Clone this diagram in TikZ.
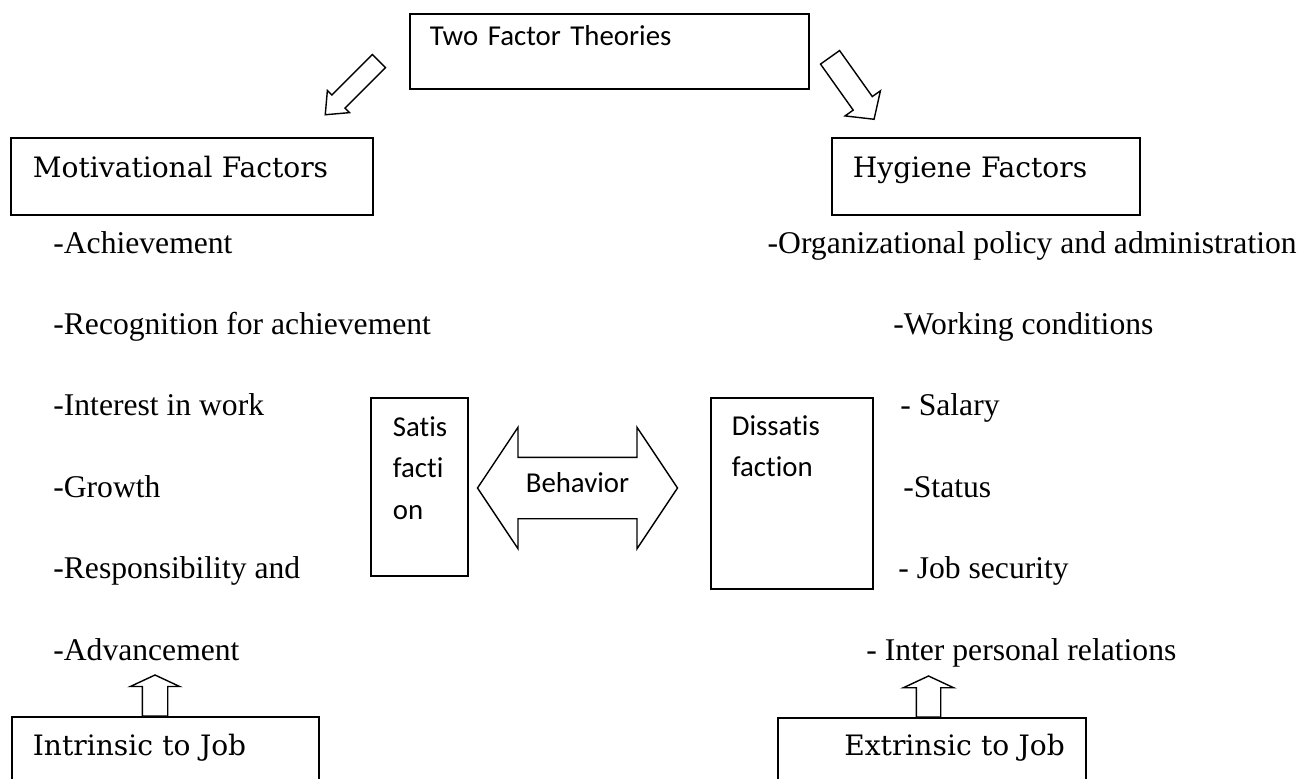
\documentclass[tikz,border=0pt]{standalone}
\usepackage{fontspec}
\setmainfont{Liberation Serif}
\newfontfamily\carlito[Ligatures=NoCommon]{Carlito}
\newfontfamily\dejaserif{DejaVu Serif}
\usetikzlibrary{shapes,shapes.arrows,calc}
\newlength{\pxl}
\setlength{\pxl}{0.02cm}
\tikzset{
  factbox/.style={
      draw,
      line width=1pt,
      anchor=north west,
      inner ysep=0pt,
      align=left
  },
  sansbox/.style={
      factbox,
      font=\carlito\fontsize{16.4}{23.4}\selectfont
  },
  serifbox/.style={
      factbox,
      font=\dejaserif\fontsize{16}{20}\selectfont
  },
  factor/.style={
      anchor=base west,
      inner sep=0pt,
      font=\fontsize{18}{22}\selectfont
  },
  blockarrow/.style={
      draw,
      line width=0.8pt,
      single arrow,
      inner xsep=0pt,
      outer sep=0pt
  }
}

\begin{document}
\begin{tikzpicture}[x=0.02cm,y=-0.02cm]
    \useasboundingbox (0,0) rectangle (1309,778);
    \clip (0,0) rectangle (1309,778);
    \node[sansbox,inner xsep=20\pxl,text width=359\pxl,text height=32\pxl,text depth=43\pxl] (theory) at (409,13) {Two Factor Theories};
    \node[serifbox,inner xsep=22\pxl,text width=318\pxl,text height=40\pxl,text depth=37\pxl] (motiv) at (10,137) {Motivational Factors};
    \node[serifbox,inner xsep=21\pxl,text width=266\pxl,text height=40\pxl,text depth=37\pxl] (hyg) at (831,137) {Hygiene Factors};
    \node[sansbox,inner xsep=22\pxl,text width=53\pxl,text height=39\pxl,text depth=139\pxl] (satis) at (370,397) {Satis\\facti\\on};
    \node[sansbox,inner xsep=21\pxl,text width=120\pxl,text height=38\pxl,text depth=153\pxl] (dissat) at (710,397) {Dissatis\\faction};
    \node[serifbox,inner xsep=21\pxl,text width=265\pxl,text height=39\pxl,text depth=80\pxl] (intr) at (11,716) {Intrinsic to Job};
    \node[serifbox,align=right,inner xsep=21\pxl,text width=266\pxl,text height=38\pxl,text depth=80\pxl] (extr) at (777,717) {Extrinsic to Job};

    \foreach \t [count=\i] in {-Achievement,-Recognition for achievement,-Interest in work,-Growth,-Responsibility and,-Advancement}
        \node[factor] (m\i) at (53,{253+81.4*(\i-1)}) {\t};
    \node[factor,anchor=base east] (h1) at (1297,253) {-Organizational policy and administration};
    \foreach \x/\t [count=\i from 2] in {893/-Working conditions,900/- Salary,903/-Status,898/- Job security,866/- Inter personal relations}
        \node[factor] (h\i) at (\x,{253+81.4*(\i-1)}) {\t};

    \node[blockarrow,rotate=225,inner ysep=8.5\pxl,single arrow head extend=6.5\pxl,single arrow tip angle=80,minimum height=76\pxl] (toleft) at (356,84) {};
    \node[blockarrow,rotate=-54.6,inner ysep=11\pxl,single arrow head extend=10\pxl,single arrow tip angle=96,minimum height=76\pxl] (toright) at (849,84) {};
    \node[blockarrow,rotate=90,anchor=tail,inner ysep=12\pxl,single arrow head extend=12\pxl,single arrow tip angle=130,minimum height=41\pxl] (intrup) at (155,716) {};
    \node[blockarrow,rotate=90,anchor=tail,inner ysep=11.5\pxl,single arrow head extend=13\pxl,single arrow tip angle=130,minimum height=41\pxl] (extrup) at (928.5,717) {};
    \node[draw,line width=0.8pt,double arrow,inner xsep=0pt,minimum height=200\pxl,text height=8\pxl,text depth=0pt,inner ysep=26\pxl,double arrow head extend=30\pxl,double arrow tip angle=112.6,font=\carlito\fontsize{16.4}{20}\selectfont] (behav) at (577.5,488) {Behavior};
\end{tikzpicture}
\end{document}
